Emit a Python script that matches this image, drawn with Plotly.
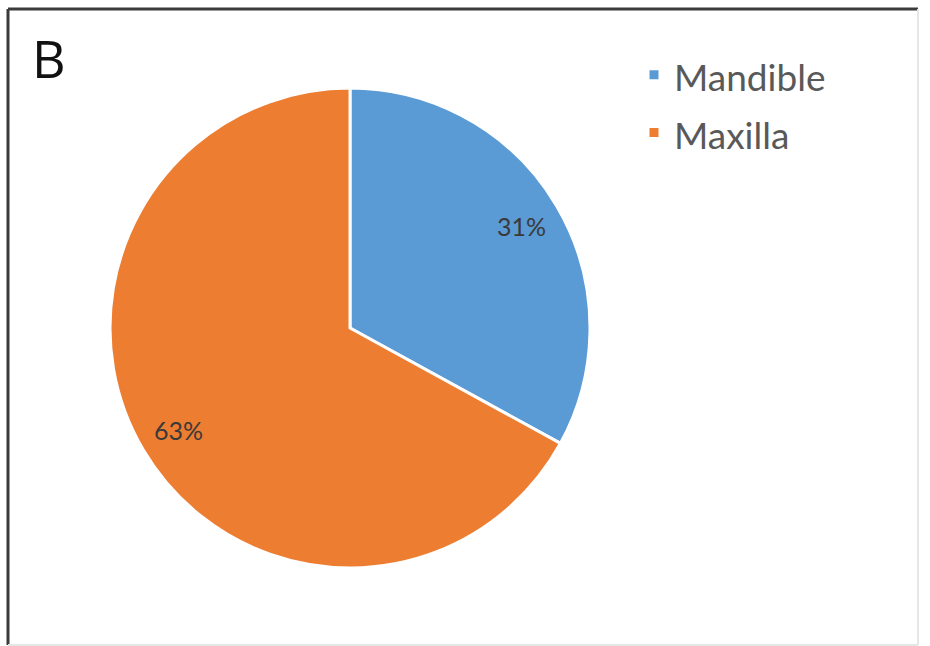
import numpy as np
import plotly.graph_objects as go

# Jaw location of the cases
regions = ["Mandible", "Maxilla"]
shares = [31, 63]
colors = ["#5B9BD5", "#ED7D31"]

W, H = 930, 646

# pie geometry in pixels
cx, cy, R = 350, 328, 240

fig = go.Figure(
    go.Pie(
        labels=[f'<span style="font-size:37px">{r}</span>' for r in regions],
        values=shares,
        sort=False,
        direction="clockwise",
        rotation=0,
        marker=dict(colors=colors, line=dict(color="white", width=3)),
        textinfo="none",
        hovertemplate="%{value}%<extra></extra>",
        domain=dict(x=[(cx - R) / W, (cx + R) / W], y=[(H - cy - R) / H, (H - cy + R) / H]),
    )
)

# value labels placed along each slice's bisector, near the rim
vals = np.array(shares, dtype=float)
frac = vals / vals.sum()
ends = np.cumsum(frac)
mids = (ends - frac / 2) * 2 * np.pi  # clockwise from 12 o'clock
annotations = []
for v, a in zip(shares, mids):
    px = cx + 0.83 * R * np.sin(a)
    py = cy - 0.83 * R * np.cos(a)
    annotations.append(
        dict(
            text=f"{v}%", xref="paper", yref="paper",
            x=px / W, y=1 - py / H, xanchor="center", yanchor="middle",
            showarrow=False,
            font=dict(family="Lato", size=25, color="#3a3a3a"),
        )
    )

annotations.append(
    dict(
        text="B", xref="paper", yref="paper",
        x=30 / W, y=1 - 20 / H, xanchor="left", yanchor="top",
        showarrow=False,
        font=dict(family="Open Sans", size=52, color="#111111"),
    )
)

fig.update_layout(
    width=W,
    height=H,
    margin=dict(l=0, r=0, t=0, b=0),
    paper_bgcolor="white",
    plot_bgcolor="white",
    font=dict(family="Lato", color="#595959"),
    legend=dict(
        x=634 / W,
        y=1 - 41 / H,
        xanchor="left",
        yanchor="top",
        font=dict(family="Lato", size=42, color="#595959"),
        itemwidth=30,
        bgcolor="rgba(0,0,0,0)",
    ),
    shapes=[
        # frame: dark top/left edges, faint right/bottom edges
        dict(type="line", xref="paper", yref="paper",
             x0=8 / W, x1=918 / W, y0=1 - 9 / H, y1=1 - 9 / H,
             line=dict(color="#3a3a3a", width=3)),
        dict(type="line", xref="paper", yref="paper",
             x0=8 / W, x1=8 / W, y0=1 - 9 / H, y1=1 / H,
             line=dict(color="#3a3a3a", width=3)),
        dict(type="line", xref="paper", yref="paper",
             x0=918 / W, x1=918 / W, y0=1 - 9 / H, y1=1 / H,
             line=dict(color="#e6e6e6", width=2)),
        dict(type="line", xref="paper", yref="paper",
             x0=8 / W, x1=918 / W, y0=1 / H, y1=1 / H,
             line=dict(color="#e6e6e6", width=2)),
    ],
    annotations=annotations,
)

fig.write_html("out.html")
